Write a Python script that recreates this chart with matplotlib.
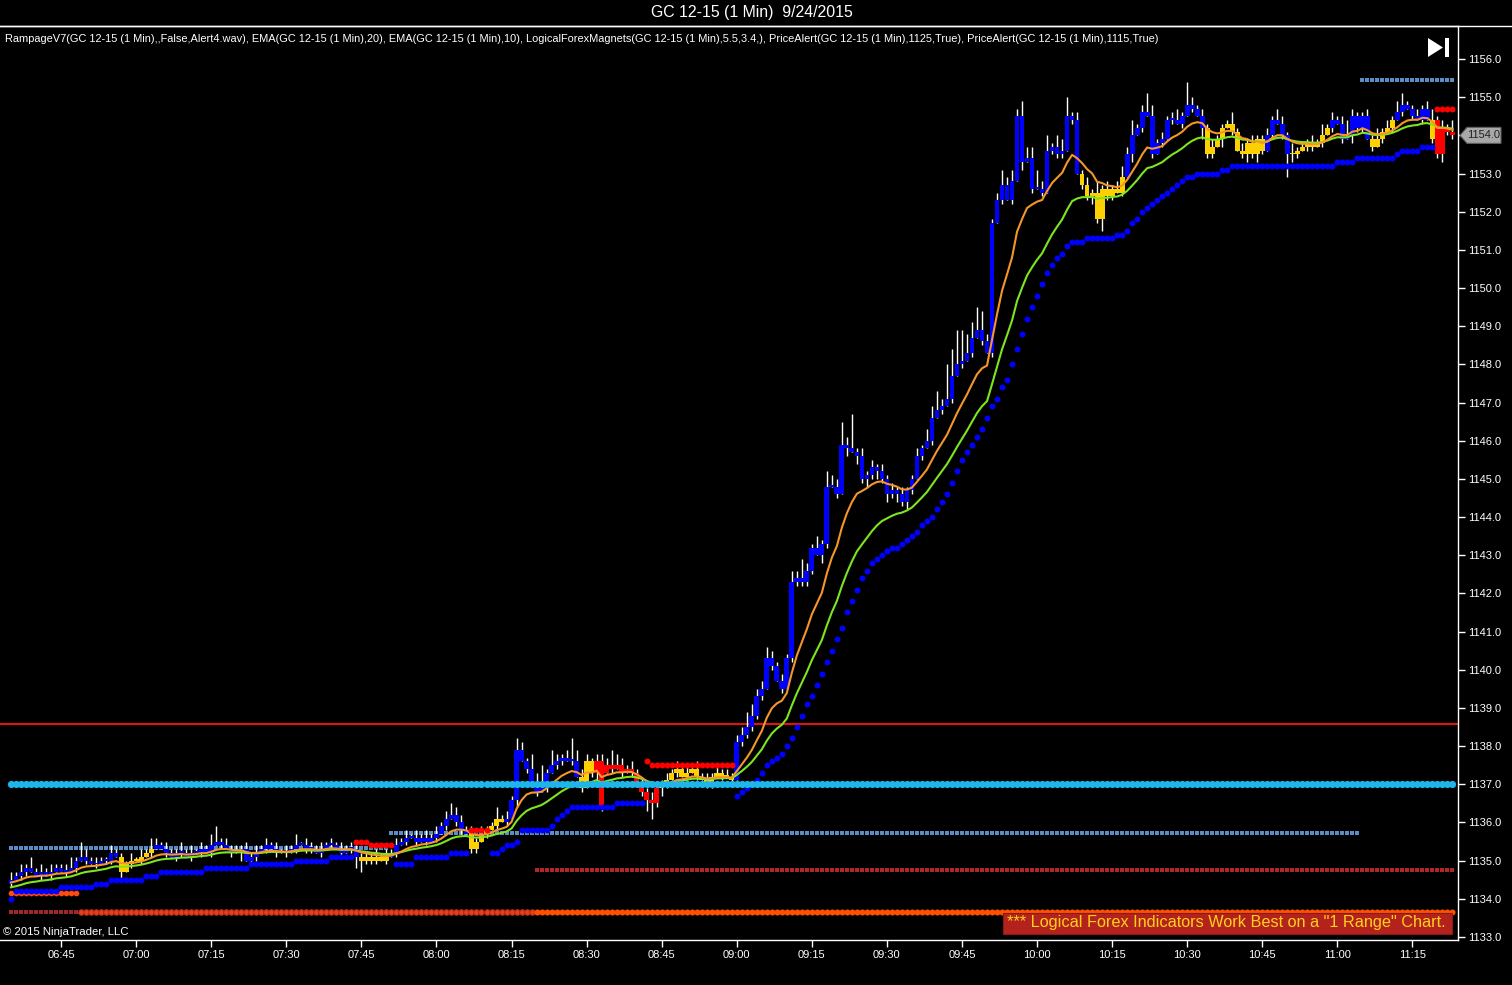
import matplotlib
matplotlib.use("Agg")
import matplotlib.pyplot as plt
from matplotlib.patches import Polygon, Rectangle
from matplotlib.lines import Line2D
from matplotlib.transforms import IdentityTransform
import numpy as np

plt.rcParams['font.family'] = ['Liberation Sans', 'DejaVu Sans']

TITLE = "GC 12-15 (1 Min)  9/24/2015"
INDICATORS = ("RampageV7(GC 12-15 (1 Min),,False,Alert4.wav), EMA(GC 12-15 (1 Min),20), "
              "EMA(GC 12-15 (1 Min),10), LogicalForexMagnets(GC 12-15 (1 Min),5.5,3.4,), "
              "PriceAlert(GC 12-15 (1 Min),1125,True), PriceAlert(GC 12-15 (1 Min),1115,True)")
COPYRIGHT = "\u00a9 2015 NinjaTrader, LLC"
BANNER = "*** Logical Forex Indicators Work Best on a \"1 Range\" Chart."
FIRST_BAR_TIME = "06:35"
TIME_LABELS = ["06:45", "07:00", "07:15", "07:30", "07:45", "08:00", "08:15", "08:30", "08:45",
               "09:00", "09:15", "09:30", "09:45", "10:00", "10:15", "10:30", "10:45", "11:00", "11:15"]
PRICE_TICKS = list(range(1133, 1157))
LAST_PRICE = 1154.0

# 1-minute closes, 06:35 .. 11:23
CLOSE = [
    1134.5, 1134.6, 1134.7, 1134.8, 1134.7, 1134.6, 1134.7, 1134.6, 1134.7, 1134.8,
    1134.7, 1134.7, 1134.8, 1135.0, 1135.1, 1135.0, 1134.9, 1134.9, 1135.0, 1135.0, 1135.2, 1135.1, 1134.7, 1134.9, 1135.0,
    1135.0, 1135.1, 1135.2, 1135.3, 1135.4, 1135.3, 1135.2, 1135.1, 1135.2, 1135.2, 1135.1, 1135.2, 1135.2, 1135.3, 1135.2,
    1135.4, 1135.5, 1135.4, 1135.3, 1135.2, 1135.2, 1135.3, 1135.0, 1135.1, 1135.2, 1135.3, 1135.4, 1135.3, 1135.2, 1135.2,
    1135.2, 1135.3, 1135.4, 1135.4, 1135.3, 1135.3, 1135.2, 1135.3, 1135.4, 1135.4, 1135.3, 1135.2, 1135.3, 1135.3, 1135.1,
    1135.0, 1135.1, 1135.0, 1135.1, 1135.0, 1135.1, 1135.2, 1135.4, 1135.5, 1135.6, 1135.6, 1135.5, 1135.6, 1135.5, 1135.6,
    1135.7, 1135.9, 1136.1, 1136.2, 1136.0, 1135.8, 1135.7, 1135.3, 1135.5, 1135.7, 1135.8, 1135.9, 1136.1, 1136.0, 1136.1,
    1136.6, 1137.9, 1137.6, 1137.4, 1137.0, 1136.8, 1136.9, 1137.3, 1137.5, 1137.6, 1137.7, 1137.6, 1137.6, 1137.2, 1136.9,
    1137.6, 1137.3, 1137.6, 1136.4, 1137.5, 1137.4, 1137.5, 1137.3, 1137.4, 1137.3, 1137.0, 1136.8, 1136.6, 1136.5, 1136.9,
    1137.0, 1137.1, 1137.3, 1137.4, 1137.2, 1137.3, 1137.4, 1137.2, 1137.1, 1137.0, 1137.2, 1137.3, 1137.2, 1137.2, 1137.1,
    1138.1, 1138.3, 1138.5, 1138.8, 1139.3, 1139.5, 1140.3, 1140.1, 1139.7, 1139.5, 1140.3, 1142.3, 1142.4, 1142.3, 1142.6,
    1143.2, 1143.0, 1143.3, 1144.8, 1144.8, 1144.6, 1145.9, 1145.8, 1145.7, 1145.6, 1145.0, 1145.1, 1145.3, 1145.2, 1145.0,
    1144.6, 1144.7, 1144.6, 1144.4, 1144.7, 1145.0, 1145.6, 1145.8, 1146.0, 1146.6, 1146.8, 1146.9, 1147.1, 1147.7, 1148.0,
    1148.1, 1148.3, 1148.7, 1148.9, 1148.6, 1148.3, 1151.7, 1152.3, 1152.7, 1152.3, 1152.8, 1154.5, 1153.3, 1153.4, 1152.6,
    1152.6, 1152.5, 1153.6, 1153.7, 1153.5, 1153.6, 1154.5, 1154.4, 1153.0, 1152.7, 1152.4, 1152.5, 1151.8, 1152.6, 1152.4,
    1152.6, 1152.5, 1152.9, 1153.5, 1154.0, 1154.2, 1154.6, 1154.5, 1153.5, 1153.8, 1153.9, 1154.4, 1154.4, 1154.3, 1154.5,
    1154.8, 1154.7, 1154.5, 1154.2, 1153.5, 1153.7, 1153.9, 1154.2, 1154.3, 1154.1, 1153.6, 1153.5, 1153.8, 1153.5, 1153.9,
    1153.6, 1154.0, 1154.4, 1154.3, 1154.0, 1153.5, 1153.5, 1153.6, 1153.7, 1153.8, 1153.7, 1153.8, 1154.0, 1154.2, 1154.4,
    1154.3, 1153.9, 1154.0, 1154.5, 1154.2, 1154.5, 1153.9, 1153.7, 1153.9, 1154.1, 1154.2, 1154.4, 1154.6, 1154.8, 1154.7,
    1154.5, 1154.4, 1154.7, 1154.4, 1153.9, 1153.5, 1154.2, 1154.1, 1154.0,
]
FIRST_OPEN = 1134.4
OPEN_OVERRIDES = {119: 1137.3, 285: 1154.4}

# wick lengths in ticks (0.1) above body / below body
UPPER_WICK = ("2121312121" "1231421211" "2111212132" "1211312121" "3412121212" "1212121312"
              "2121212121" "1112121212" "1212121232" "2121211312" "1321436142" "1263221222"
              "4321212121" "1212121212" "1212122432" "2321213252" "1314326291" "2121212121"
              "1213352979" "8546521242" "3243352413" "3512121312" "1232412531" "2123162121"
              "2111312121" "1213213111" "2131212421" "1213121331" "121231213")
LOWER_WICK = ("1011001010" "0101010101" "1020101010" "0101101010" "1010102011" "0101010101"
              "1010101013" "3111010101" "0101010101" "1011010101" "0201010101" "1010101210"
              "1010101341" "2101010101" "1010101111" "1010101111" "1021010202" "1212121212"
              "1010101010" "1010101010" "1020101011" "1010112131" "1010201010" "1010101031"
              "1020101212" "1010162101" "1010101021" "1010101010" "101011211")

# Rampage bar colouring runs: b = trend up, y = neutral, r = trend down
COLOR_RUNS = [('b', 22), ('y', 7), ('b', 41), ('y', 6), ('b', 16), ('y', 7), ('b', 15), ('y', 3),
              ('r', 13), ('y', 15), ('b', 69), ('y', 9), ('b', 16), ('y', 12), ('b', 5), ('y', 8),
              ('b', 8), ('y', 5), ('b', 7), ('y', 1), ('r', 4)]

EMA_FAST_SEED = 1134.41
EMA_SLOW_SEED = 1134.28

# trailing stop dots below price (value, count), None = not drawn
LOWER_STOP_RUNS = [
    (1134.0, 1), (1134.2, 9), (1134.3, 7), (1134.4, 3), (1134.5, 7), (1134.6, 3), (1134.7, 9),
    (1134.8, 9), (1134.9, 9), (1135.0, 7), (1135.1, 5), (None, 8), (1134.9, 4), (1135.1, 7),
    (1135.2, 4), (None, 4), (1135.2, 2), (1135.3, 1), (1135.4, 2), (1135.5, 1), (1135.8, 6),
    (1135.9, 1), (1136.1, 1), (1136.2, 1), (1136.3, 1), (1136.4, 9), (1136.5, 6), (None, 18),
    (1136.7, 1), (1136.8, 1), (1136.9, 1), (1137.0, 1), (1137.1, 1), (1137.3, 1), (1137.5, 1),
    (1137.6, 1), (1137.7, 1), (1137.8, 1), (1138.0, 1), (1138.2, 1), (1138.5, 1), (1138.8, 1),
    (1139.1, 1), (1139.3, 1), (1139.6, 1), (1139.9, 1), (1140.2, 1), (1140.5, 1), (1140.8, 1),
    (1141.1, 1), (1141.5, 1), (1141.8, 1),
    (1142.1, 1), (1142.4, 1), (1142.6, 1), (1142.8, 1), (1142.9, 1), (1143.0, 1), (1143.1, 1),
    (1143.2, 2), (1143.3, 1), (1143.4, 1), (1143.5, 1), (1143.6, 1), (1143.8, 1), (1143.9, 1),
    (1144.0, 1), (1144.2, 1), (1144.4, 1), (1144.6, 1), (1144.9, 1), (1145.2, 1), (1145.5, 1),
    (1145.7, 1), (1145.9, 1), (1146.1, 1), (1146.3, 1), (1146.6, 1), (1146.9, 1), (1147.1, 1),
    (1147.4, 1), (1147.6, 1),
    (1148.0, 1), (1148.4, 1), (1148.8, 1), (1149.2, 1), (1149.5, 1), (1149.8, 1), (1150.1, 1),
    (1150.4, 1), (1150.6, 1), (1150.8, 1), (1150.9, 1), (1151.1, 1), (1151.2, 1),
    (1151.2, 2), (1151.3, 6), (1151.4, 2), (1151.5, 1),
    (1151.7, 1), (1151.8, 1), (1152.0, 1), (1152.1, 1), (1152.2, 1), (1152.3, 1), (1152.4, 1),
    (1152.5, 1), (1152.6, 1), (1152.7, 1), (1152.8, 1), (1152.9, 2),
    (1153.0, 5), (1153.1, 2), (1153.2, 21), (1153.3, 4), (1153.4, 8), (1153.5, 1), (1153.6, 4),
    (1153.7, 3), (None, 4),
]
UPPER_STOP_RUNS = [(None, 69), (1135.5, 3), (1135.4, 5), (None, 15), (1135.8, 4), (None, 31),
                   (1137.6, 1), (1137.5, 17), (None, 140), (1154.7, 4)]

# Logical Forex magnet levels: (price, first bar, last bar)
MAGNET_BLUE = [(1135.33, 0, 75), (1135.73, 76, 269), (1155.45, 270, 288)]
MAGNET_CYAN = (1137.0, 0, 288)
MAGNET_DARKRED_LOW = (1133.65, 0, 13)
MAGNET_ORANGE_RING = (1133.65, 14, 104)
MAGNET_ORANGE_SOLID = (1133.65, 105, 288)
MAGNET_ORANGE_UPPER = (1134.15, 0, 13)
MAGNET_DARKRED_MID = (1134.75, 105, 288)
RED_LEVEL = 1138.57

# ---------------------------------------------------------------- build
def expand(runs):
    out = []
    for v, k in runs:
        out += [v] * k
    return out

close = np.array(CLOSE)
n = len(close)
idx = np.arange(n)
opn = np.concatenate([[FIRST_OPEN], close[:-1]])
for k, v in OPEN_OVERRIDES.items():
    opn[k] = v
up = np.array([int(ch) for ch in UPPER_WICK]) * 0.1
dn = np.array([int(ch) for ch in LOWER_WICK]) * 0.1
top = np.maximum(opn, close)
bot = np.minimum(opn, close)
high = top + up
low = bot - dn
cmap = {'b': '#0000FF', 'y': '#FFD000', 'r': '#FF0000'}
colors = [cmap[c] for c in expand(COLOR_RUNS)]


def ema(vals, period, seed):
    a = 2.0 / (period + 1)
    e = seed
    out = []
    for v in vals:
        e = e + a * (v - e)
        out.append(e)
    return np.array(out)

ema_fast = ema(close, 10, EMA_FAST_SEED)
ema_slow = ema(close, 20, EMA_SLOW_SEED)


def to_min(t):
    h, m = t.split(":")
    return int(h) * 60 + int(m)

t0 = to_min(FIRST_BAR_TIME)
tick_pos = [to_min(t) - t0 for t in TIME_LABELS]

# ---------------------------------------------------------------- figure
W, H = 1512, 985
fig = plt.figure(figsize=(W / 100, H / 100), dpi=100, facecolor='black')
ax = fig.add_axes([0, 1 - 940 / H, 1458 / W, (940 - 26) / H], facecolor='black')
ax.set_xlim(-2.2, 289.1)
ax.set_ylim(1132.92, 1156.865)

# magnet levels
def level(spec, **kw):
    p, a, b = spec
    xs = np.arange(a, b + 1)
    ax.plot(xs, np.full(len(xs), p), linestyle='none', **kw)

for spec in MAGNET_BLUE:
    level(spec, marker='s', ms=2.8, color='#5B8CC4', mew=0, zorder=2)
level(MAGNET_DARKRED_LOW, marker='s', ms=2.7, color='#A0282A', mew=0, zorder=2)
level(MAGNET_ORANGE_RING, marker='o', ms=4.0, color='#E8401C', mec='#B02A14', mew=0.8, zorder=2)
level(MAGNET_ORANGE_SOLID, marker='o', ms=4.4, color='#FF5000', mew=0, zorder=2)
level(MAGNET_ORANGE_UPPER, marker='o', ms=4.1, color='#FF4A10', mew=0, zorder=2)
level(MAGNET_DARKRED_MID, marker='s', ms=2.4, color='#B0262A', mew=0, zorder=2)
ax.axhline(RED_LEVEL, color='#F01010', lw=1.4, zorder=2)

# candles
ax.vlines(idx, low, high, color='white', lw=1.0, zorder=3)
ax.bar(idx, np.maximum(top - bot, 0.05), bottom=bot, width=0.95, color=colors,
       linewidth=0, zorder=4)

# EMAs
ax.plot(idx, ema_slow, color='#7CE61E', lw=1.5, zorder=5)
ax.plot(idx, ema_fast, color='#F5962A', lw=1.5, zorder=5)

# stops
lower = np.array([np.nan if v is None else v for v in expand(LOWER_STOP_RUNS)], dtype=float)
upper = np.array([np.nan if v is None else v for v in expand(UPPER_STOP_RUNS)], dtype=float)
ax.plot(idx, lower, linestyle='none', marker='o', ms=4.3, color='#0000FF', mew=0, zorder=6)
ax.plot(idx, upper, linestyle='none', marker='o', ms=4.3, color='#FF0000', mew=0, zorder=6)

# cyan magnet
level(MAGNET_CYAN, marker='o', ms=5.2, color='#1EB6EA', mew=0, zorder=7)

# axes styling
ax.spines['left'].set_visible(False)
for s in ['top', 'bottom', 'right']:
    ax.spines[s].set_color('white')
    ax.spines[s].set_linewidth(1.0)
ax.yaxis.tick_right()
ax.set_yticks(PRICE_TICKS)
ax.set_yticklabels([f"{v:.1f}" for v in PRICE_TICKS])
ax.set_xticks(tick_pos)
ax.set_xticklabels(TIME_LABELS)
ax.tick_params(axis='both', colors='white', labelcolor='white', labelsize=8,
               direction='out', length=5, width=1)
ax.tick_params(axis='y', pad=2)
ax.tick_params(axis='x', pad=2)

# top white rule across the whole figure
fig.add_artist(Line2D([0, 1], [1 - 26 / H, 1 - 26 / H], color='white', lw=1.0,
                      transform=fig.transFigure))

fig.text(752 / W, 1 - 13 / H, TITLE, color='white', fontsize=11.4, ha='center', va='center')
fig.text(5 / W, 1 - 39 / H, INDICATORS, color='white', fontsize=7.9, ha='left', va='center')
fig.text(3 / W, 1 - 932 / H, COPYRIGHT, color='white', fontsize=8.2, ha='left', va='center')

# banner
fig.add_artist(Rectangle((1003, H - 934), 449, 21, facecolor='#B4221E', edgecolor='#8A1A16',
                         lw=0.8, transform=IdentityTransform()))
fig.text(1007 / W, 1 - 923 / H, BANNER, color='#FFD21A', fontsize=11.7, ha='left', va='center')

# play-to-end icon
fig.add_artist(Polygon([(1428, H - 38), (1428, H - 57), (1443, H - 47.5)], closed=True,
                       facecolor='white', edgecolor='none', transform=IdentityTransform()))
fig.add_artist(Rectangle((1445, H - 57), 4, 19, facecolor='white', edgecolor='none',
                         transform=IdentityTransform()))

# last-price marker
fig.canvas.draw()
yp = ax.transData.transform((0, LAST_PRICE))[1]
fig.add_artist(Polygon([(1460, yp), (1467, yp + 8), (1501, yp + 8), (1501, yp - 8), (1467, yp - 8)],
                       closed=True, facecolor='#A8A8A8', edgecolor='#606060', lw=0.8,
                       transform=IdentityTransform()))
fig.text(1484 / W, yp / H, f"{LAST_PRICE:.1f}", color='#202020', fontsize=8,
         ha='center', va='center')

fig.savefig("out.png", dpi=100, facecolor='black')
